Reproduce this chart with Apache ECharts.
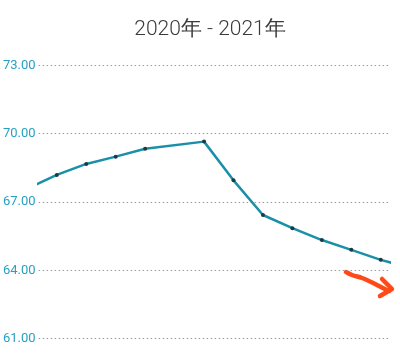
<!DOCTYPE html>
<html>
<head>
<meta charset="utf-8">
<script src="https://cdn.jsdelivr.net/npm/echarts@6/dist/echarts.min.js"></script>
<style>
html,body{margin:0;padding:0;background:#fff;}
#c{width:400px;height:362px;}
</style>
</head>
<body>
<div id="c"></div>
<script>
// Data (x = period index; the view shows -0.62 .. 11.28)
const titleText = '2020年 - 2021年';
const periodIndex = [-1, 0, 1, 2, 3, 5, 6, 7, 8, 9, 10, 11, 12];
const values = [67.59, 68.19, 68.67, 68.99, 69.34, 69.65, 67.95, 66.43, 65.85, 65.33, 64.90, 64.46, 64.11];
const yTicks = [61, 64, 67, 70, 73];

const chart = echarts.init(document.getElementById('c'), null, {renderer: 'canvas'});
const seriesData = periodIndex.map((x, i) => [x, values[i]]);

chart.setOption({
  animation: false,
  backgroundColor: '#ffffff',
  title: {
    text: titleText,
    left: 205,
    textAlign: 'center',
    top: 14,
    textStyle: {fontFamily: 'Roboto', fontSize: 21, fontWeight: 300, color: '#3a3a3a'}
  },
  grid: {left: 36, right: 11, top: 65.3, bottom: 23.3, containLabel: false},
  xAxis: {
    type: 'value', min: -0.616, max: 11.28, show: false
  },
  yAxis: {
    type: 'value', min: yTicks[0], max: yTicks[yTicks.length - 1], interval: 3,
    axisLine: {show: false}, axisTick: {show: false},
    axisLabel: {
      margin: 3, color: '#2aa0c0', fontFamily: 'Roboto', fontSize: 13,
      formatter: v => v.toFixed(2)
    },
    splitLine: {show: true, lineStyle: {type: [1.5, 2.5], color: '#9a9a9a', width: 1}}
  },
  series: [{
    type: 'line',
    data: seriesData,
    clip: true,
    symbol: 'circle',
    symbolSize: 4,
    showSymbol: true,
    lineStyle: {color: '#1a8fa8', width: 2.5},
    itemStyle: {color: '#1d3a42', borderWidth: 0}
  }],
  graphic: [{
    type: 'polyline',
    shape: {points: [[346, 272], [352, 275], [362, 278], [371, 282], [379, 286], [389, 291]], smooth: 0.3},
    style: {stroke: '#ff4a17', lineWidth: 4.5, fill: null, lineCap: 'round', lineJoin: 'round'}
  }, {
    type: 'polyline',
    shape: {points: [[382, 279], [392, 289], [380, 296]]},
    style: {stroke: '#ff4a17', lineWidth: 4.5, fill: null, lineCap: 'round', lineJoin: 'round'}
  }]
});
</script>
</body>
</html>
